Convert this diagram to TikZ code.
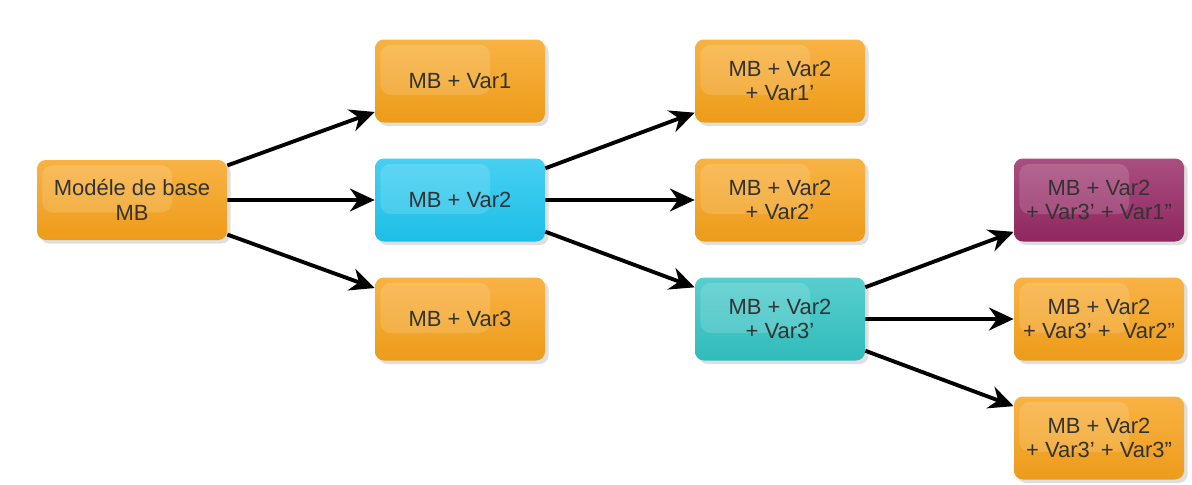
\documentclass[tikz,border=0pt]{standalone}
\usepackage{fontspec}
\setmainfont{Liberation Sans}
\usepackage{tikz}
\usetikzlibrary{trees,arrows.meta,shadows}
\definecolor{boxorange}{HTML}{F7A21B}
\definecolor{boxcyan}{HTML}{1EC6F0}
\definecolor{boxteal}{HTML}{33C3C3}
\definecolor{boxpurple}{HTML}{962864}

\begin{document}
\begin{tikzpicture}[grow'=right,
		level 1/.style={level distance=6.56cm,sibling distance=2.38cm},
		level 2/.style={level distance=6.4cm,sibling distance=2.38cm},
	 	level 3/.style={level distance=6.38cm,sibling distance=2.38cm},
		box/.style={rectangle,rounded corners=5pt,align=center,
			minimum width=3.4cm,minimum height=1.66cm,inner xsep=1pt,
			text=black!80,font=\fontsize{12.5}{14}\selectfont,
			top color=#1!82!white,bottom color=#1!96!black,
			drop shadow={shadow xshift=2pt,shadow yshift=-2pt,opacity=0.25},
			path picture={\fill[white,opacity=0.14,rounded corners=6pt]
				([shift={(3pt,-3pt)}]path picture bounding box.north west) rectangle
				([shift={(-1.1cm,0.55cm)}]path picture bounding box.south east);}},
		orangebox/.style={box=boxorange},
		cyanbox/.style={box=boxcyan},
		tealbox/.style={box=boxteal},
		purplebox/.style={box=boxpurple},
		edge from parent/.style={draw,line width=2.2pt,-{Stealth[length=14pt,width=13pt]}}]
	\useasboundingbox (0,0) rectangle (23.84,-9.7);
	\node[orangebox,minimum width=3.8cm,minimum height=1.6cm] (base) at (2.64,-4.0) {Modéle de base\\MB}
		child {node[orangebox] (v1) {MB + Var1}}
		child {node[cyanbox] (v2) {MB + Var2}
			child {node[orangebox] (v2v1) {MB + Var2\\+ Var1'}}
			child {node[orangebox] (v2v2) {MB + Var2\\+ Var2'}}
			child {node[tealbox] (v2v3) {MB + Var2\\+ Var3'}
				child {node[purplebox] (v3v1) {MB + Var2\\+ Var3' + Var1''}}
				child {node[orangebox] (v3v2) {MB + Var2\\+ Var3' + \ Var2''}}
				child {node[orangebox] (v3v3) {MB + Var2\\+ Var3' + Var3''}}
			}
		}
		child {node[orangebox] (v3) {MB + Var3}};
\end{tikzpicture}
\end{document}
